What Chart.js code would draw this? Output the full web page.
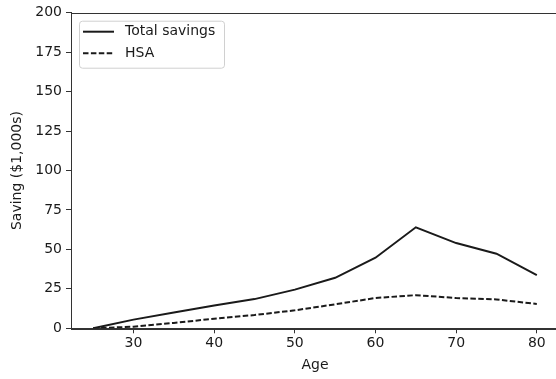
<!DOCTYPE html>
<html>
<head>
<meta charset="utf-8">
<script src="https://cdn.jsdelivr.net/npm/chart.js@4/dist/chart.umd.min.js"></script>
<style>
  html, body { margin: 0; padding: 0; background: #fff; overflow: hidden; }
  #wrap { width: 562px; height: 379px; }
</style>
</head>
<body>
<div id="wrap"><canvas id="savingChart"></canvas></div>
<script>
const ages = [25, 30, 35, 40, 45, 50, 55, 60, 65, 70, 75, 80];
const totalSavings = [0, 5.5, 10, 14.5, 18.5, 24.5, 32, 44.7, 64, 54, 47.3, 33.7];
const hsaSavings = [0, 1, 3.4, 6.1, 8.4, 11.4, 15.2, 19.2, 21, 19.2, 18.3, 15.4];
const xTicks = [30, 40, 50, 60, 70, 80];
const yTicks = [0, 25, 50, 75, 100, 125, 150, 175, 200];

const ink = '#1a1a1a';
const font = { family: 'DejaVu Sans', size: 14 };

function toPoints(vals) {
  return ages.map((a, i) => ({ x: a, y: vals[i] }));
}

// box around the plot, like matplotlib spines
const frame = {
  id: 'frame',
  afterDraw(chart) {
    const { ctx, chartArea: a } = chart;
    ctx.save();
    ctx.strokeStyle = '#333';
    ctx.lineWidth = 1;
    ctx.strokeRect(Math.round(a.left) + 0.5, Math.round(a.top) + 0.5,
      Math.round(a.right - a.left), Math.round(a.bottom - a.top));
    ctx.restore();
  }
};

// legend drawn inside the plot, upper left
const innerLegend = {
  id: 'innerLegend',
  afterDraw(chart) {
    const { ctx, chartArea: a } = chart;
    const x0 = a.left + 8, y0 = a.top + 8;
    const w = 145, h = 47;
    ctx.save();
    ctx.fillStyle = 'rgba(255,255,255,0.8)';
    ctx.strokeStyle = '#d0d0d0';
    ctx.lineWidth = 1;
    ctx.beginPath();
    ctx.roundRect(x0 + 0.5, y0 + 0.5, w, h, 3);
    ctx.fill();
    ctx.stroke();
    ctx.font = '14px "DejaVu Sans"';
    ctx.textBaseline = 'middle';
    chart.data.datasets.forEach((ds, i) => {
      const yy = y0 + 11 + i * 21.5;
      ctx.strokeStyle = ds.borderColor;
      ctx.lineWidth = ds.borderWidth;
      ctx.setLineDash(ds.borderDash || []);
      ctx.beginPath();
      ctx.moveTo(x0 + 4, yy);
      ctx.lineTo(x0 + 35, yy);
      ctx.stroke();
      ctx.setLineDash([]);
      ctx.fillStyle = ink;
      ctx.fillText(ds.label, x0 + 46, yy);
    });
    ctx.restore();
  }
};

new Chart(document.getElementById('savingChart'), {
  type: 'line',
  data: {
    datasets: [
      {
        label: 'Total savings',
        data: toPoints(totalSavings),
        borderColor: ink,
        borderWidth: 2,
        pointRadius: 0,
        tension: 0
      },
      {
        label: 'HSA',
        data: toPoints(hsaSavings),
        borderColor: ink,
        borderWidth: 2,
        borderDash: [5.5, 2.4],
        pointRadius: 0,
        tension: 0
      }
    ]
  },
  options: {
    responsive: true,
    maintainAspectRatio: false,
    animation: false,
    layout: { padding: { top: 12.7, right: 3, left: 0, bottom: 0 } },
    plugins: {
      legend: { display: false },
      tooltip: { enabled: false }
    },
    scales: {
      x: {
        type: 'linear',
        min: 22.25,
        max: 82.75,
        afterBuildTicks: s => { s.ticks = xTicks.map(v => ({ value: v })); },
        afterFit: s => { s.height = 50.7; },
        grid: { drawOnChartArea: false, tickLength: 5, color: '#333' },
        border: { color: '#333' },
        ticks: { color: ink, font, padding: 2, maxRotation: 0 },
        title: { display: true, text: 'Age', color: ink, font, padding: { top: 0, bottom: 5 } }
      },
      y: {
        min: 0,
        max: 200,
        afterBuildTicks: s => { s.ticks = yTicks.map(v => ({ value: v })); },
        afterFit: s => { s.width = 71; },
        grid: { drawOnChartArea: false, tickLength: 5, color: '#333' },
        border: { color: '#333' },
        ticks: { color: ink, font, padding: 4 },
        title: { display: true, text: 'Saving ($1,000s)', color: ink, font, padding: { top: 9, bottom: 0 } }
      }
    }
  },
  plugins: [frame, innerLegend]
});
</script>
</body>
</html>
